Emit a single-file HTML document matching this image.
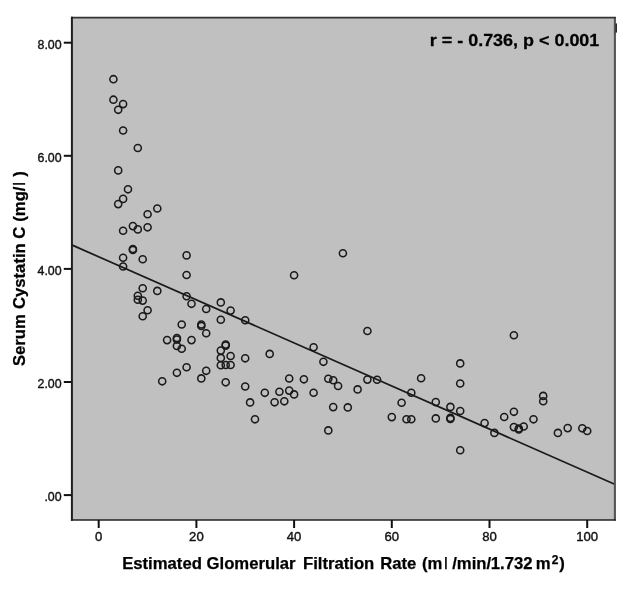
<!DOCTYPE html>
<html><head><meta charset="utf-8"><title>Scatter</title>
<style>
html,body{margin:0;padding:0;background:#fff;}
svg{display:block;font-family:"Liberation Sans",sans-serif;filter:blur(0.35px);}
</style></head><body>
<svg width="626" height="590" viewBox="0 0 626 590">
<rect width="626" height="590" fill="#ffffff"/>
<rect x="71.9" y="17.6" width="543" height="502.4" fill="#c0c0c0"/>
<g fill="none" stroke="#1a1a1a" stroke-width="1.55">
<circle cx="113.4" cy="79.2" r="3.55"/>
<circle cx="113.4" cy="99.7" r="3.55"/>
<circle cx="123.1" cy="104.1" r="3.55"/>
<circle cx="118.2" cy="109.8" r="3.55"/>
<circle cx="123.1" cy="130.5" r="3.55"/>
<circle cx="137.8" cy="148.0" r="3.55"/>
<circle cx="118.2" cy="170.4" r="3.55"/>
<circle cx="128.0" cy="189.3" r="3.55"/>
<circle cx="123.1" cy="198.9" r="3.55"/>
<circle cx="118.2" cy="204.1" r="3.55"/>
<circle cx="157.3" cy="208.5" r="3.55"/>
<circle cx="147.6" cy="214.2" r="3.55"/>
<circle cx="132.9" cy="226.1" r="3.55"/>
<circle cx="137.8" cy="229.4" r="3.55"/>
<circle cx="147.6" cy="227.3" r="3.55"/>
<circle cx="123.1" cy="230.7" r="3.55"/>
<circle cx="132.9" cy="249.0" r="3.55"/>
<circle cx="132.9" cy="250.0" r="3.55"/>
<circle cx="123.1" cy="257.8" r="3.55"/>
<circle cx="142.7" cy="259.3" r="3.55"/>
<circle cx="123.1" cy="266.5" r="3.55"/>
<circle cx="186.6" cy="255.4" r="3.55"/>
<circle cx="186.6" cy="275.0" r="3.55"/>
<circle cx="142.7" cy="288.2" r="3.55"/>
<circle cx="157.3" cy="290.9" r="3.55"/>
<circle cx="137.8" cy="295.7" r="3.55"/>
<circle cx="137.8" cy="299.7" r="3.55"/>
<circle cx="142.7" cy="300.6" r="3.55"/>
<circle cx="147.6" cy="310.2" r="3.55"/>
<circle cx="142.7" cy="316.2" r="3.55"/>
<circle cx="186.6" cy="296.2" r="3.55"/>
<circle cx="191.5" cy="303.8" r="3.55"/>
<circle cx="181.7" cy="324.5" r="3.55"/>
<circle cx="167.1" cy="340.1" r="3.55"/>
<circle cx="176.9" cy="338.0" r="3.55"/>
<circle cx="176.9" cy="339.5" r="3.55"/>
<circle cx="176.9" cy="345.9" r="3.55"/>
<circle cx="181.7" cy="348.7" r="3.55"/>
<circle cx="191.5" cy="340.1" r="3.55"/>
<circle cx="186.6" cy="367.2" r="3.55"/>
<circle cx="176.9" cy="372.8" r="3.55"/>
<circle cx="206.2" cy="309.0" r="3.55"/>
<circle cx="220.8" cy="302.4" r="3.55"/>
<circle cx="230.6" cy="310.6" r="3.55"/>
<circle cx="220.8" cy="319.7" r="3.55"/>
<circle cx="245.2" cy="320.2" r="3.55"/>
<circle cx="201.3" cy="324.5" r="3.55"/>
<circle cx="201.3" cy="326.0" r="3.55"/>
<circle cx="206.2" cy="333.2" r="3.55"/>
<circle cx="225.7" cy="344.6" r="3.55"/>
<circle cx="225.7" cy="345.6" r="3.55"/>
<circle cx="220.8" cy="350.6" r="3.55"/>
<circle cx="230.6" cy="356.0" r="3.55"/>
<circle cx="220.8" cy="357.9" r="3.55"/>
<circle cx="245.2" cy="358.3" r="3.55"/>
<circle cx="220.8" cy="365.2" r="3.55"/>
<circle cx="225.7" cy="365.0" r="3.55"/>
<circle cx="230.6" cy="365.0" r="3.55"/>
<circle cx="206.2" cy="370.8" r="3.55"/>
<circle cx="201.3" cy="378.4" r="3.55"/>
<circle cx="162.2" cy="381.3" r="3.55"/>
<circle cx="225.7" cy="382.3" r="3.55"/>
<circle cx="245.2" cy="386.5" r="3.55"/>
<circle cx="264.8" cy="392.8" r="3.55"/>
<circle cx="250.1" cy="402.4" r="3.55"/>
<circle cx="255.0" cy="419.3" r="3.55"/>
<circle cx="269.7" cy="353.9" r="3.55"/>
<circle cx="313.6" cy="347.3" r="3.55"/>
<circle cx="323.4" cy="361.8" r="3.55"/>
<circle cx="289.2" cy="378.5" r="3.55"/>
<circle cx="303.9" cy="379.3" r="3.55"/>
<circle cx="328.3" cy="378.7" r="3.55"/>
<circle cx="333.2" cy="380.2" r="3.55"/>
<circle cx="338.1" cy="386.0" r="3.55"/>
<circle cx="367.4" cy="379.6" r="3.55"/>
<circle cx="357.6" cy="389.4" r="3.55"/>
<circle cx="279.4" cy="391.7" r="3.55"/>
<circle cx="289.2" cy="390.6" r="3.55"/>
<circle cx="294.1" cy="394.4" r="3.55"/>
<circle cx="313.6" cy="392.7" r="3.55"/>
<circle cx="274.6" cy="402.3" r="3.55"/>
<circle cx="284.3" cy="401.3" r="3.55"/>
<circle cx="333.2" cy="407.1" r="3.55"/>
<circle cx="347.8" cy="407.4" r="3.55"/>
<circle cx="328.3" cy="430.4" r="3.55"/>
<circle cx="342.9" cy="253.2" r="3.55"/>
<circle cx="294.1" cy="275.2" r="3.55"/>
<circle cx="367.4" cy="331.0" r="3.55"/>
<circle cx="377.1" cy="379.7" r="3.55"/>
<circle cx="421.1" cy="378.2" r="3.55"/>
<circle cx="460.2" cy="363.4" r="3.55"/>
<circle cx="460.2" cy="383.5" r="3.55"/>
<circle cx="411.3" cy="392.7" r="3.55"/>
<circle cx="401.6" cy="402.7" r="3.55"/>
<circle cx="435.8" cy="402.1" r="3.55"/>
<circle cx="450.4" cy="406.9" r="3.55"/>
<circle cx="460.2" cy="411.0" r="3.55"/>
<circle cx="391.8" cy="417.1" r="3.55"/>
<circle cx="406.5" cy="419.2" r="3.55"/>
<circle cx="411.3" cy="419.2" r="3.55"/>
<circle cx="435.8" cy="418.4" r="3.55"/>
<circle cx="450.4" cy="417.9" r="3.55"/>
<circle cx="450.4" cy="418.9" r="3.55"/>
<circle cx="460.2" cy="450.2" r="3.55"/>
<circle cx="484.6" cy="423.1" r="3.55"/>
<circle cx="494.4" cy="432.9" r="3.55"/>
<circle cx="504.2" cy="417.0" r="3.55"/>
<circle cx="513.9" cy="411.8" r="3.55"/>
<circle cx="513.9" cy="427.1" r="3.55"/>
<circle cx="518.8" cy="428.5" r="3.55"/>
<circle cx="518.8" cy="429.5" r="3.55"/>
<circle cx="523.7" cy="426.5" r="3.55"/>
<circle cx="533.5" cy="419.3" r="3.55"/>
<circle cx="543.2" cy="395.9" r="3.55"/>
<circle cx="543.2" cy="401.2" r="3.55"/>
<circle cx="557.9" cy="432.9" r="3.55"/>
<circle cx="567.7" cy="428.1" r="3.55"/>
<circle cx="582.3" cy="428.3" r="3.55"/>
<circle cx="587.2" cy="431.0" r="3.55"/>
<circle cx="513.9" cy="335.2" r="3.55"/>
</g>
<line x1="71.7" y1="244.9" x2="614.7" y2="484.3" stroke="#1a1a1a" stroke-width="1.7"/>
<path d="M614.9 17.6V520.6" stroke="#555" stroke-width="2.1" fill="none"/>
<path d="M71 17.6H615.9" stroke="#333" stroke-width="1.9" fill="none"/>
<path d="M71.9 16.7V520.8" stroke="#1e1e1e" stroke-width="2" fill="none"/>
<path d="M70.9 520H615.9" stroke="#222" stroke-width="1.7" fill="none"/>
<rect x="615.6" y="23.4" width="1.3" height="9.2" fill="#151515"/>
<g stroke="#111" stroke-width="2">
<line x1="63.8" x2="71.5" y1="42.7" y2="42.7"/>
<line x1="63.8" x2="71.5" y1="155.8" y2="155.8"/>
<line x1="63.8" x2="71.5" y1="268.9" y2="268.9"/>
<line x1="63.8" x2="71.5" y1="382.0" y2="382.0"/>
<line x1="63.8" x2="71.5" y1="495.1" y2="495.1"/>
<line x1="98.7" x2="98.7" y1="520" y2="528"/>
<line x1="196.4" x2="196.4" y1="520" y2="528"/>
<line x1="294.1" x2="294.1" y1="520" y2="528"/>
<line x1="391.8" x2="391.8" y1="520" y2="528"/>
<line x1="489.5" x2="489.5" y1="520" y2="528"/>
<line x1="587.2" x2="587.2" y1="520" y2="528"/>
</g>
<g font-size="13.7px" fill="#111" stroke="#111" stroke-width="0.4">
<text transform="translate(61.6,48.5) scale(0.905,1)" text-anchor="end">8.00</text>
<text transform="translate(61.6,161.6) scale(0.905,1)" text-anchor="end">6.00</text>
<text transform="translate(61.6,274.7) scale(0.905,1)" text-anchor="end">4.00</text>
<text transform="translate(61.6,387.8) scale(0.905,1)" text-anchor="end">2.00</text>
<text transform="translate(61.6,500.9) scale(0.905,1)" text-anchor="end">.00</text>
<text transform="translate(98.7,540.9) scale(0.96,1)" text-anchor="middle">0</text>
<text transform="translate(196.4,540.9) scale(0.96,1)" text-anchor="middle">20</text>
<text transform="translate(294.1,540.9) scale(0.96,1)" text-anchor="middle">40</text>
<text transform="translate(391.8,540.9) scale(0.96,1)" text-anchor="middle">60</text>
<text transform="translate(489.5,540.9) scale(0.96,1)" text-anchor="middle">80</text>
<text transform="translate(587.2,540.9) scale(0.96,1)" text-anchor="middle">100</text>
</g>
<text transform="translate(429.8,46) scale(1.056,1)" font-size="17px" font-weight="bold" fill="#000" stroke="#000" stroke-width="0.25">r = - 0.736, p &lt; 0.001</text>
<g fill="#000" stroke="#000" stroke-width="0.25">
<text x="122.13" y="569.1" font-size="16.7px" font-weight="bold">Estimated</text>
<text x="206.55" y="569.1" font-size="16.7px" font-weight="bold">Glomerular</text>
<text x="302.95" y="569.1" font-size="16.7px" font-weight="bold">Filtration</text>
<text x="380.23" y="569.1" font-size="16.7px" font-weight="bold">Rate</text>
<text x="422.02" y="569.1" font-size="16.7px" font-weight="bold">(m</text>
<text x="444.08" y="569.1" font-size="17px" font-weight="normal">l</text>
<text x="452.2" y="569.1" font-size="16.7px" font-weight="bold">/min/</text>
<text x="490.84" y="569.1" font-size="16.7px" font-weight="bold">1.732</text>
<text x="535.82" y="569.1" font-size="16.7px" font-weight="bold">m</text>
<text x="551.64" y="563.9" font-size="12px" font-weight="bold">2</text>
<text x="559.26" y="569.1" font-size="16.7px" font-weight="bold">)</text>
<text transform="translate(24.7,366.04) rotate(-90)" font-size="16.7px" font-weight="bold">Serum</text>
<text transform="translate(24.7,309.06) rotate(-90)" font-size="16.7px" font-weight="bold">Cystatin</text>
<text transform="translate(24.7,238.68) rotate(-90)" font-size="16.7px" font-weight="bold">C</text>
<text transform="translate(24.7,221.74) rotate(-90)" font-size="16.7px" font-weight="bold">(mg/</text>
<text transform="translate(24.7,185.87) rotate(-90)" font-size="17px" font-weight="normal">l</text>
<text transform="translate(24.7,176.83) rotate(-90)" font-size="16.7px" font-weight="bold">)</text>
</g>
</svg>
</body></html>
